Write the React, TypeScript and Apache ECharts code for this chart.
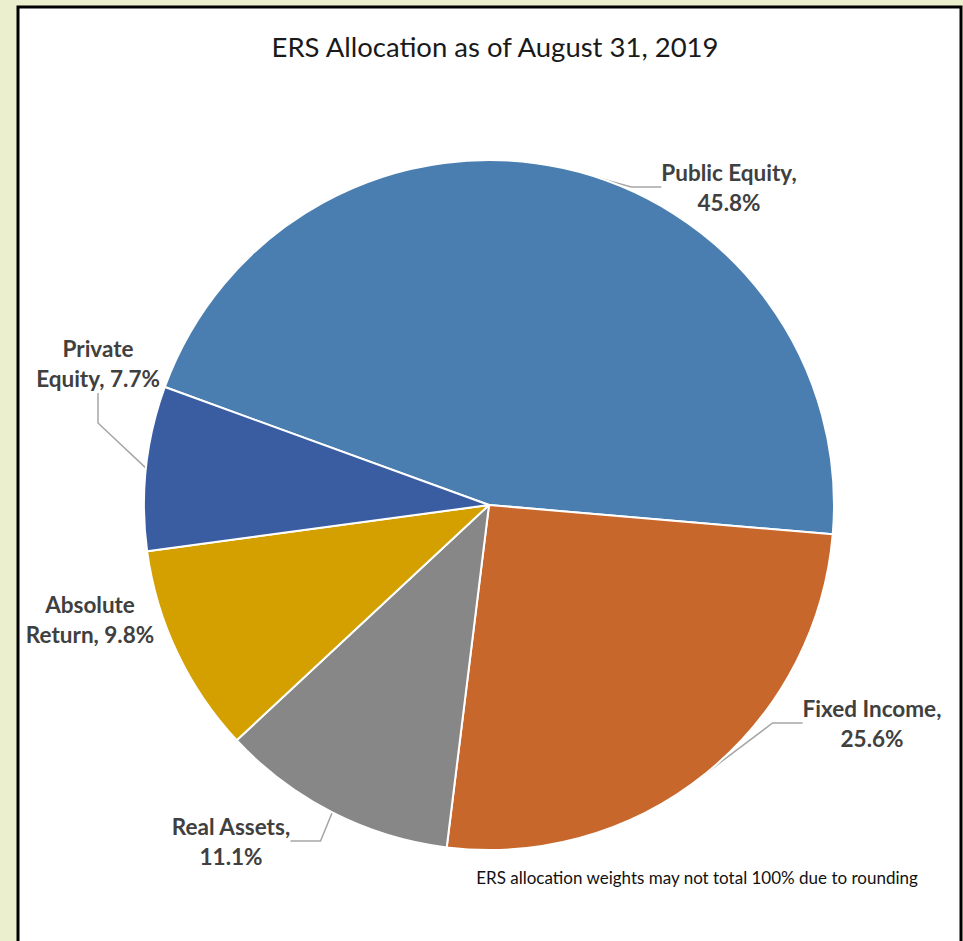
import React, { useEffect, useRef } from "react";
import * as echarts from "echarts";

const categories = ["Public Equity", "Fixed Income", "Real Assets", "Absolute Return", "Private Equity"];
const values = [45.8, 25.6, 11.1, 9.8, 7.7];
const titleText = "ERS Allocation as of August 31, 2019";
const noteText = "ERS allocation weights may not total 100% due to rounding";

const sliceColors = ["#4A7EB0", "#C8672B", "#878787", "#D4A000", "#3A5DA2"];
const breakAfterFirstWord = [false, false, false, true, true];
const showLine = [true, true, true, false, true];
const labelPos = [
  { x: 729, y: 187 },
  { x: 872, y: 723 },
  { x: 231, y: 841 },
  { x: 90, y: 619 },
  { x: 98, y: 363 },
];

export default function App() {
  const ref = useRef<HTMLDivElement>(null);
  useEffect(() => {
    document.body.style.margin = "0";
    const chart = echarts.init(ref.current!, null, { renderer: "svg" });
    const data = categories.map((name, i) => ({
      name,
      value: values[i],
      itemStyle: { color: sliceColors[i] },
      labelLine: { show: showLine[i] },
    }));
    chart.setOption({
      animation: false,
      backgroundColor: "#EBEFCE",
      title: [
        {
          text: titleText,
          left: 490,
          top: 27,
          textAlign: "center",
          textStyle: { fontFamily: "Lato", fontSize: 27.5, fontWeight: "normal", color: "#1a1a1a" },
        },
        {
          text: noteText,
          left: 692,
          top: 864,
          textAlign: "center",
          textStyle: { fontFamily: "Lato", fontSize: 17, fontWeight: "normal", color: "#111" },
        },
      ],
      graphic: [
        {
          type: "rect",
          z: -10,
          shape: { x: 18, y: 7, width: 943, height: 960 },
          style: { fill: "#ffffff", stroke: "#000000", lineWidth: 3 },
        },
      ],
      series: [
        {
          type: "pie",
          center: [489, 505],
          radius: [0, 345],
          startAngle: 160,
          clockwise: true,
          data,
          itemStyle: { borderColor: "#ffffff", borderWidth: 2 },
          label: {
            show: true,
            fontFamily: "Lato",
            fontWeight: "bold",
            fontSize: 22.5,
            lineHeight: 30,
            color: "#404040",
            align: "center",
            overflow: "none",
            formatter: (p: any) => {
              const i = p.dataIndex;
              if (breakAfterFirstWord[i]) {
                const parts = p.name.split(" ");
                return parts[0] + "\n" + parts.slice(1).join(" ") + ", " + p.value + "%";
              }
              return p.name + ",\n" + p.value + "%";
            },
          },
          labelLine: { show: true, lineStyle: { color: "#A6A6A6", width: 1.5 } },
          labelLayout: (params: any) => {
            const pos = labelPos[params.dataIndex];
            return { x: pos.x, y: pos.y, align: "center", verticalAlign: "middle" };
          },
        },
      ],
    });
    return () => chart.dispose();
  }, []);
  return <div ref={ref} style={{ position: "absolute", left: 0, top: 0, width: 963, height: 941 }} />;
}
